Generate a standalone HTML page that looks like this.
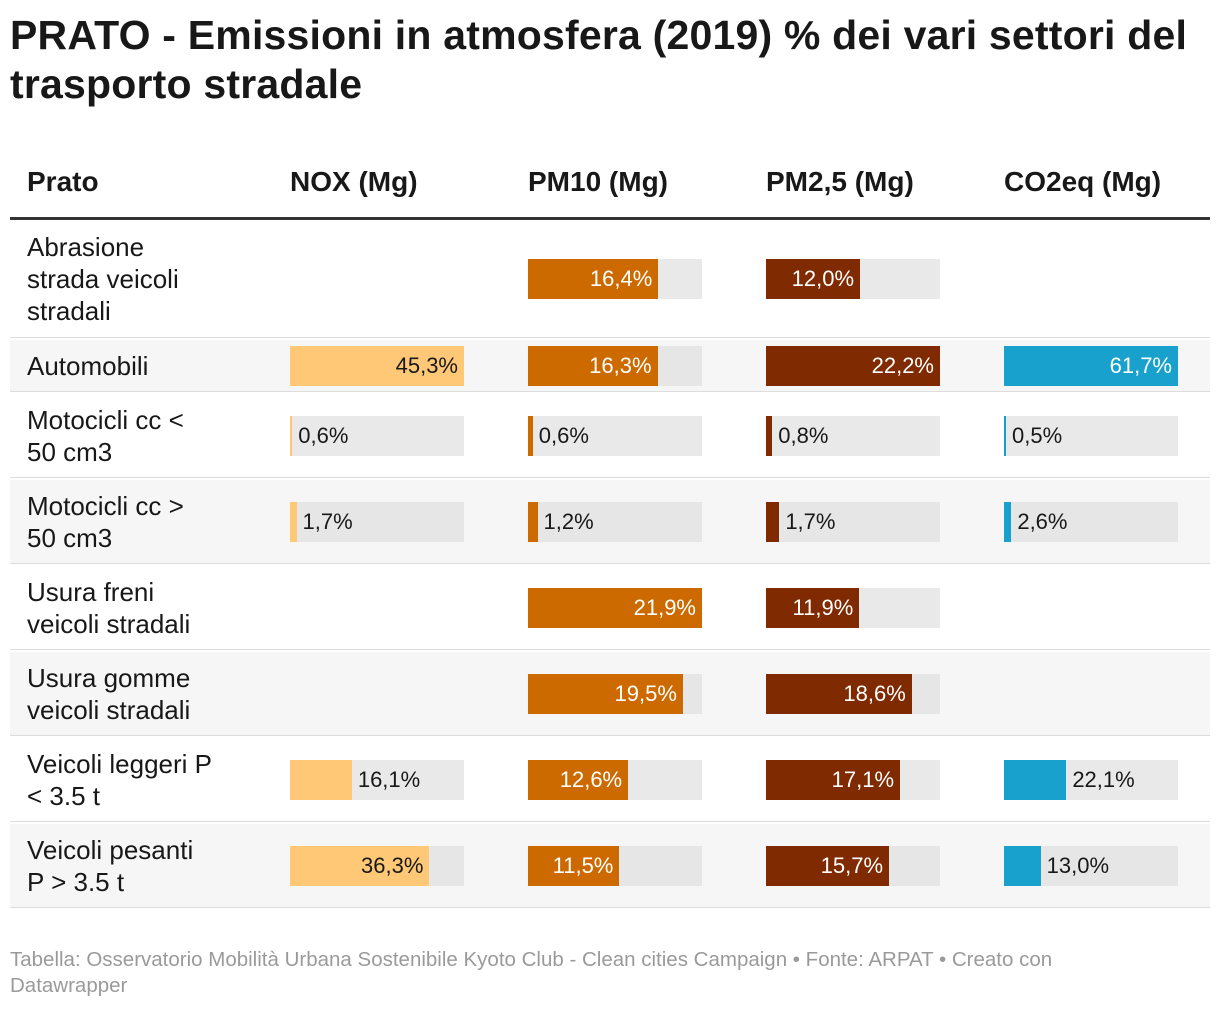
<!DOCTYPE html>
<html><head><meta charset="utf-8"><style>
body{margin:0;width:1220px;height:1010px;background:#fff;font-family:"Liberation Sans",sans-serif;position:relative;overflow:hidden;color:#181818}
.t{position:absolute;left:10px;top:11px;font-size:41px;font-weight:bold;line-height:49px;width:1210px;letter-spacing:0.2px}
.h{position:absolute;top:166px;font-size:28px;font-weight:bold}
.hl{position:absolute;left:10px;top:217px;width:1200px;height:3px;background:#333}
.row{position:absolute;left:10px;width:1200px;border-bottom:1px solid #ddd}
.lab{position:absolute;left:17px;font-size:26px;line-height:32px}
.track{position:absolute;width:174px;height:40px;background:#e9e9e9}
.bar{position:absolute;left:0;top:0;height:40px}
.val{position:absolute;top:0;line-height:40px;font-size:22px}
.f{position:absolute;left:10px;top:947px;font-size:20.5px;color:#9a9a9a;line-height:26px;width:1110px}
</style></head><body>
<div class="t">PRATO - Emissioni in atmosfera (2019) % dei vari settori del trasporto stradale</div>
<div class="h" style="left:27px">Prato</div>
<div class="h" style="left:290px">NOX (Mg)</div>
<div class="h" style="left:528px">PM10 (Mg)</div>
<div class="h" style="left:766px">PM2,5 (Mg)</div>
<div class="h" style="left:1004px">CO2eq (Mg)</div>
<div class="hl"></div>
<div id="tbl"></div>
<div class="f">Tabella: Osservatorio Mobilità Urbana Sostenibile Kyoto Club - Clean cities Campaign • Fonte: ARPAT • Creato con Datawrapper</div>
<script>
const categories=["Abrasione strada veicoli stradali","Automobili","Motocicli cc < 50 cm3","Motocicli cc > 50 cm3","Usura freni veicoli stradali","Usura gomme veicoli stradali","Veicoli leggeri P < 3.5 t","Veicoli pesanti P > 3.5 t"];
const nox=[null,45.3,0.6,1.7,null,null,16.1,36.3];
const pm10=[16.4,16.3,0.6,1.2,21.9,19.5,12.6,11.5];
const pm25=[12.0,22.2,0.8,1.7,11.9,18.6,17.1,15.7];
const co2=[null,61.7,0.5,2.6,null,null,22.1,13.0];
const labelsHtml=["Abrasione<br>strada veicoli<br>stradali","Automobili","Motocicli cc &lt;<br>50 cm3","Motocicli cc &gt;<br>50 cm3","Usura freni<br>veicoli stradali","Usura gomme<br>veicoli stradali","Veicoli leggeri P<br>&lt; 3.5 t","Veicoli pesanti<br>P &gt; 3.5 t"];
const rowTops=[220,340,394,480,566,652,738,824];
const rowH=[118,52,84,84,84,84,84,84];
const cols=[{d:nox,x:290,c:"#fec877",tc:"#181818",n:"nox"},{d:pm10,x:528,c:"#cc6a00",tc:"#fff",n:"pm10"},{d:pm25,x:766,c:"#7f2a00",tc:"#fff",n:"pm25"},{d:co2,x:1004,c:"#18a1cd",tc:"#fff",n:"co2"}];
const tbl=document.getElementById('tbl');
const fmt=v=>v.toFixed(1).replace('.',',')+'%';
categories.forEach((cat,i)=>{
  const r=document.createElement('div');r.className='row';
  
  
  r.style.top=rowTops[i]+'px';r.style.height=(rowH[i]-1)+'px';
  r.style.background=i%2?'#f6f6f6':'#fff';
  tbl.appendChild(r);
  const l=document.createElement('div');l.className='lab';l.innerHTML=labelsHtml[i];
  
  
  const lines=labelsHtml[i].split('<br>').length;
  l.style.top=(rowH[i]/2-lines*16)+'px';
  r.appendChild(l);
  const cy=rowTops[i]+rowH[i]/2-20;
  cols.forEach(col=>{
    const v=col.d[i];if(v==null)return;
    const mx=Math.max(...col.d.filter(a=>a!=null));
    const w=v/mx*174;
    const t=document.createElement('div');t.className='track';
    
    
    t.style.left=col.x+'px';t.style.top=cy+'px';
    if(i%2)t.style.background='#e6e6e6';
    const b=document.createElement('div');b.className='bar';
    
    
    b.style.width=Math.max(w,2)+'px';b.style.background=col.c;t.appendChild(b);
    const s=document.createElement('div');s.className='val';s.textContent=fmt(v);
    
    
    if(w>80){s.style.right=(174-w+6)+'px';s.style.color=col.tc;}
    else{s.style.left=(Math.max(w,2)+6)+'px';s.style.color='#181818';}
    t.appendChild(s);
    document.body.appendChild(t);
  });
});
</script>
</body></html>
